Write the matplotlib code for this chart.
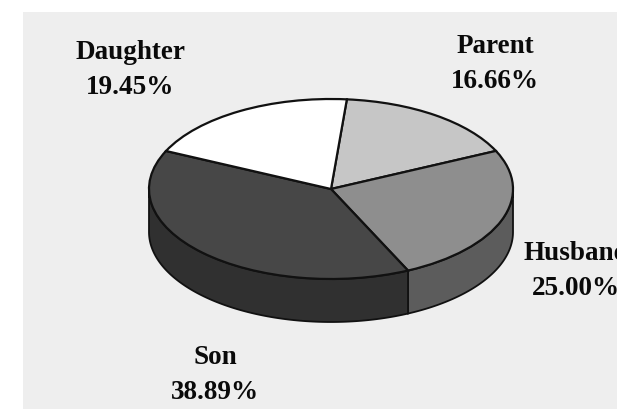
import numpy as np
import matplotlib
matplotlib.use("Agg")
import matplotlib.pyplot as plt

categories = ["Parent", "Husband", "Son", "Daughter"]
shares = [16.66, 25.00, 38.89, 19.45]
top_colors = ["#c6c6c6", "#8e8e8e", "#474747", "#ffffff"]
side_colors = ["#a0a0a0", "#5c5c5c", "#303030", "#cccccc"]

W, H = 617, 410
cx, cy = 331, 190      # pie centre in pixels
rx, ry = 182, 90
depth = 43
start = 85

fig = plt.figure(figsize=(W / 100, H / 100), dpi=100, facecolor="white")
ax = fig.add_axes([0, 0, 1, 1])

# grey page behind the chart
ax.add_patch(plt.Rectangle((23, 13), W, H, fc="#eeeeee", ec="none", zorder=0))


def rim(a0, a1, dy=0):
    t = np.radians(np.linspace(a0, a1, 120))
    return np.c_[cx + rx * np.cos(t), cy + dy - ry * np.sin(t)]


# side wall, only the part facing us (below the horizontal axis)
angle = start
for share, col in zip(shares, side_colors):
    a0 = angle
    a1 = angle - share * 3.6
    angle = a1
    lo = max(a1, -180)
    hi = min(a0, 0)
    if hi > lo:
        pts = np.vstack([rim(hi, lo), rim(lo, hi, depth)])
        ax.add_patch(plt.Polygon(pts, closed=True, fc=col, ec="#111111", lw=1.3, zorder=1))

# top face, pie() works in its own unit circle so map it to the ellipse
wedges, _ = ax.pie(shares, colors=top_colors, startangle=start, counterclock=False,
                   center=(cx, cy), radius=1,
                   wedgeprops=dict(edgecolor="#111111", linewidth=1.6))
for w in wedges:
    w.set_transform(matplotlib.transforms.Affine2D().translate(-cx, -cy).scale(rx, -ry).translate(cx, cy) + ax.transData)
    w.set_zorder(2)
ax.set_aspect("auto")
ax.set_xlim(0, W)
ax.set_ylim(H, 0)
ax.axis("off")

# Husband runs past the right edge of the scan, same as the reference
label_pos = {"Parent": (495, 64), "Husband": (576, 271), "Son": (215, 375), "Daughter": (130, 70)}
for name, share in zip(categories, shares):
    x, y = label_pos[name]
    ax.text(x, y, f"{name}\n{share:.2f}%", ha="center", va="center", family="Liberation Serif",
            fontweight="bold", fontsize=19.5, linespacing=1.52, color="#0a0a0a", zorder=3)

fig.savefig("out.png", dpi=100)
